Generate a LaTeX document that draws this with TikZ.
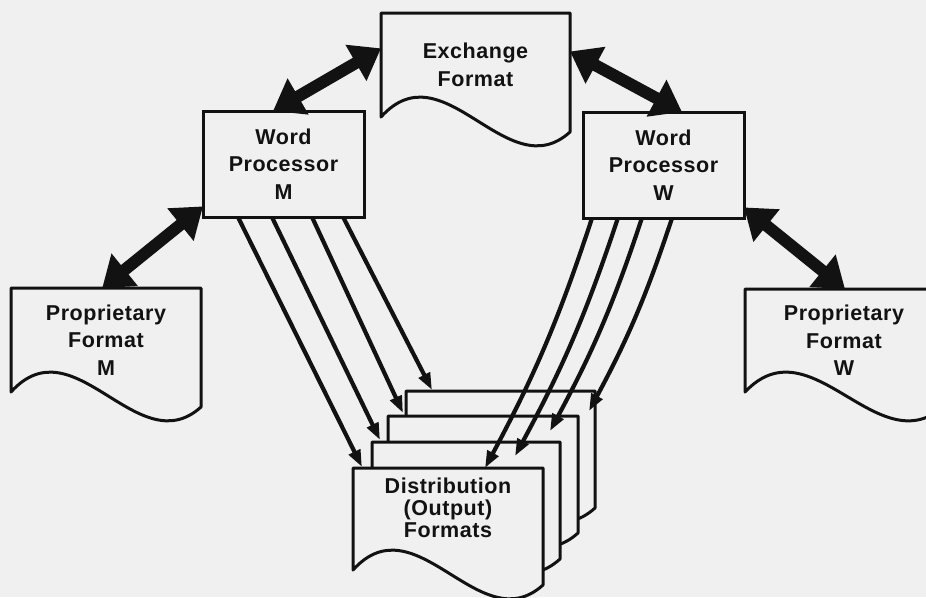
\documentclass[tikz,border=0pt]{standalone}
\usepackage{fontspec}
\setmainfont{Liberation Sans}[LetterSpace=2.5]
\usetikzlibrary{arrows.meta,calc}
\definecolor{bg}{RGB}{240,240,240}
\definecolor{ink}{RGB}{18,18,18}
\tikzset{
  docnode/.style={inner sep=0pt, outer sep=0pt, align=center,
    font=\bfseries\fontsize{21.5}{27.5}\selectfont, text=ink},
  docline/.style={draw=ink, line width=3pt, fill=bg, line join=round},
  wpbox/.style={docnode, draw=ink, line width=3pt, fill=bg,
    minimum width=161pt, minimum height=106pt},
  bigarrow/.style={draw=ink, line width=12pt,
    {Triangle[length=29pt,width=40pt]}-{Triangle[length=29pt,width=40pt]}},
  thinarrow/.style={draw=ink, line width=4.2pt, -{Triangle[length=17pt,width=12pt]}},
}
\newcommand\docpath[1]{%
  \draw[docline] (#1.north west) -- (#1.north east) -- ($(#1.south east)+(0,15)$)
    .. controls ($(#1.south west)!0.667!(#1.south east)+(0,72)$)
    and ($(#1.south west)!0.333!(#1.south east)+(0,-70)$) .. (#1.south west) -- cycle;}
\begin{document}
\begin{tikzpicture}[x=1pt,y=-1pt]
\useasboundingbox (0,0) rectangle (926,597);
\fill[bg] (0,0) rectangle (926,597);

% document nodes (shape drawn from their anchors)
\node[docnode, minimum width=189pt, minimum height=104pt] (exch) at (475.5,65) {};
\node[docnode, minimum width=190pt, minimum height=104pt] (propm) at (106,340) {};
\node[docnode, minimum width=198pt, minimum height=103pt] (propw) at (844,340.5) {};
\node[docnode, minimum width=189pt, minimum height=102pt] (d4) at (500.5,442) {};
\node[docnode, minimum width=190pt, minimum height=102pt] (d3) at (483,467) {};
\node[docnode, minimum width=188pt, minimum height=102pt] (d2) at (466,493) {};
\node[docnode, minimum width=190pt, minimum height=102pt] (d1) at (448,519) {};

\docpath{exch}
\docpath{propm}
\docpath{propw}
\docpath{d4}
\docpath{d3}
\docpath{d2}
\docpath{d1}

\node[docnode] (exchtext) at (exch.center) {Exchange\\Format};
\node[docnode] (propmtext) at (propm.center) {Proprietary\\Format\\M};
\node[docnode] (propwtext) at (propw.center) {Proprietary\\Format\\W};
\node[docnode, font=\bfseries\fontsize{21.5}{22}\selectfont] (dtext) at ($(d1.center)+(0,-11)$) {Distribution\\(Output)\\Formats};

% word processors
\node[wpbox] (wpm) at (283.5,164) {Word\\Processor\\M};
\node[wpbox] (wpw) at (663.5,165) {Word\\Processor\\W};

% thick two-way arrows
\draw[bigarrow] ($(wpm.north west)!0.435!(wpm.north east)$) -- ($(exch.north west)!0.34!(exch.south west)$);
\draw[bigarrow] ($(exch.north east)!0.37!(exch.south east)$) -- ($(wpw.north west)!0.615!(wpw.north east)$);
\draw[bigarrow] ($(wpm.north west)!0.9!(wpm.south west)$) -- ($(propm.north west)!0.48!(propm.north east)$);
\draw[bigarrow] ($(wpw.north east)!0.9!(wpw.south east)$) -- ($(propw.north west)!0.505!(propw.north east)$);

% thin arrows from M
\draw[thinarrow] ($(wpm.south west)!0.217!(wpm.south east)$) -- ($(d1.north west)+(9,-1)$);
\draw[thinarrow] ($(wpm.south west)!0.428!(wpm.south east)$) -- ($(d2.north west)+(8,-2)$);
\draw[thinarrow] ($(wpm.south west)!0.677!(wpm.south east)$) -- ($(d3.north west)+(15,-3)$);
\draw[thinarrow] ($(wpm.south west)!0.87!(wpm.south east)$) -- ($(d4.north west)+(26,-1)$);

% thin arrows from W
\draw[thinarrow] ($(wpw.south west)!0.056!(wpw.south east)$) to[bend left=5] ($(d1.north west)+(132,0)$);
\draw[thinarrow] ($(wpw.south west)!0.217!(wpw.south east)$) to[bend left=5] ($(d2.north west)+(143,14)$);
\draw[thinarrow] ($(wpw.south west)!0.366!(wpw.south east)$) to[bend left=5] ($(d3.north west)+(162,15)$);
\draw[thinarrow] ($(wpw.south west)!0.553!(wpw.south east)$) to[bend left=5] ($(d4.north west)+(183,20)$);
\end{tikzpicture}
\end{document}
